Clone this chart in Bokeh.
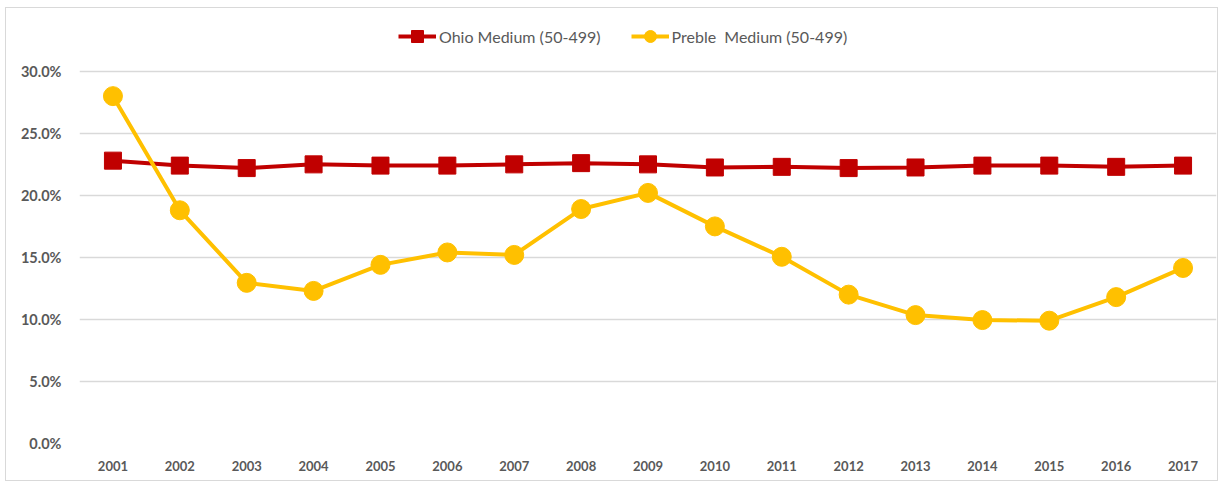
from bokeh.plotting import figure
from bokeh.models import Legend, LegendItem, FixedTicker, NumeralTickFormatter, Range1d
from bokeh.embed import file_html
from bokeh.resources import INLINE

years = list(range(2001, 2018))
ohio = [22.8, 22.4, 22.2, 22.5, 22.4, 22.4, 22.5, 22.6, 22.5, 22.25, 22.3, 22.2, 22.25, 22.4, 22.4, 22.3, 22.4]
preble = [28.0, 18.8, 12.95, 12.3, 14.4, 15.4, 15.2, 18.9, 20.2, 17.5, 15.05, 12.0, 10.35, 9.95, 9.9, 11.8, 14.15]
ohio_frac = [v / 100 for v in ohio]
preble_frac = [v / 100 for v in preble]
y_ticks = [0, 0.05, 0.10, 0.15, 0.20, 0.25, 0.30]

RED = "#C00000"
YEL = "#FFC000"
GRAY = "#595959"
FONT = "Lato"

# frame spans from 0% up past the 30% gridline, leaving headroom for the legend
p = figure(width=1213, height=474, output_backend="svg", toolbar_location=None,
           x_range=Range1d(2000.5, 2017.5), y_range=Range1d(0, 0.345),
           min_border_left=73, min_border_right=3, min_border_top=7, min_border_bottom=39)
p.styles = {"border": "1px solid #d9d9d9", "margin-left": "5px", "margin-top": "7px"}
p.outline_line_color = None
p.background_fill_color = "white"

r_line = p.line(years, ohio_frac, line_color=RED, line_width=4)
r_sq = p.scatter(years, ohio_frac, marker="square", size=17, fill_color=RED, line_color=RED)
y_line = p.line(years, preble_frac, line_color=YEL, line_width=4)
y_ci = p.scatter(years, preble_frac, marker="circle", size=19, fill_color=YEL, line_color=YEL)

p.xaxis.ticker = FixedTicker(ticks=years)
p.yaxis.ticker = FixedTicker(ticks=y_ticks)
p.yaxis.formatter = NumeralTickFormatter(format="0.0%")
p.xgrid.grid_line_color = None
p.ygrid.grid_line_color = "#d9d9d9"
p.ygrid.grid_line_width = 1.5
for ax in (p.xaxis, p.yaxis):
    ax.axis_line_color = None
    ax.major_tick_line_color = None
    ax.minor_tick_line_color = None
    ax.major_label_text_font = FONT
    ax.major_label_text_font_style = "bold"
    ax.major_label_text_color = GRAY
p.xaxis.major_label_text_font_size = "13px"
p.yaxis.major_label_text_font_size = "14.5px"
p.xaxis.major_label_standoff = 11
p.yaxis.major_label_standoff = 12

legend = Legend(items=[
    LegendItem(label="Ohio Medium (50-499)", renderers=[r_line, r_sq]),
    LegendItem(label="Preble  Medium (50-499)", renderers=[y_line, y_ci]),
], orientation="horizontal", location=(319, 392))
legend.border_line_color = None
legend.background_fill_alpha = 0
legend.label_text_font = FONT
legend.label_text_font_size = "16px"
legend.label_text_color = GRAY
legend.label_height = 30
legend.glyph_width = 38
legend.glyph_height = 30
legend.label_standoff = 3
legend.spacing = 30
legend.padding = 0
legend.margin = 0
p.add_layout(legend, "center")

open("out.html", "w").write(file_html(p, INLINE))
